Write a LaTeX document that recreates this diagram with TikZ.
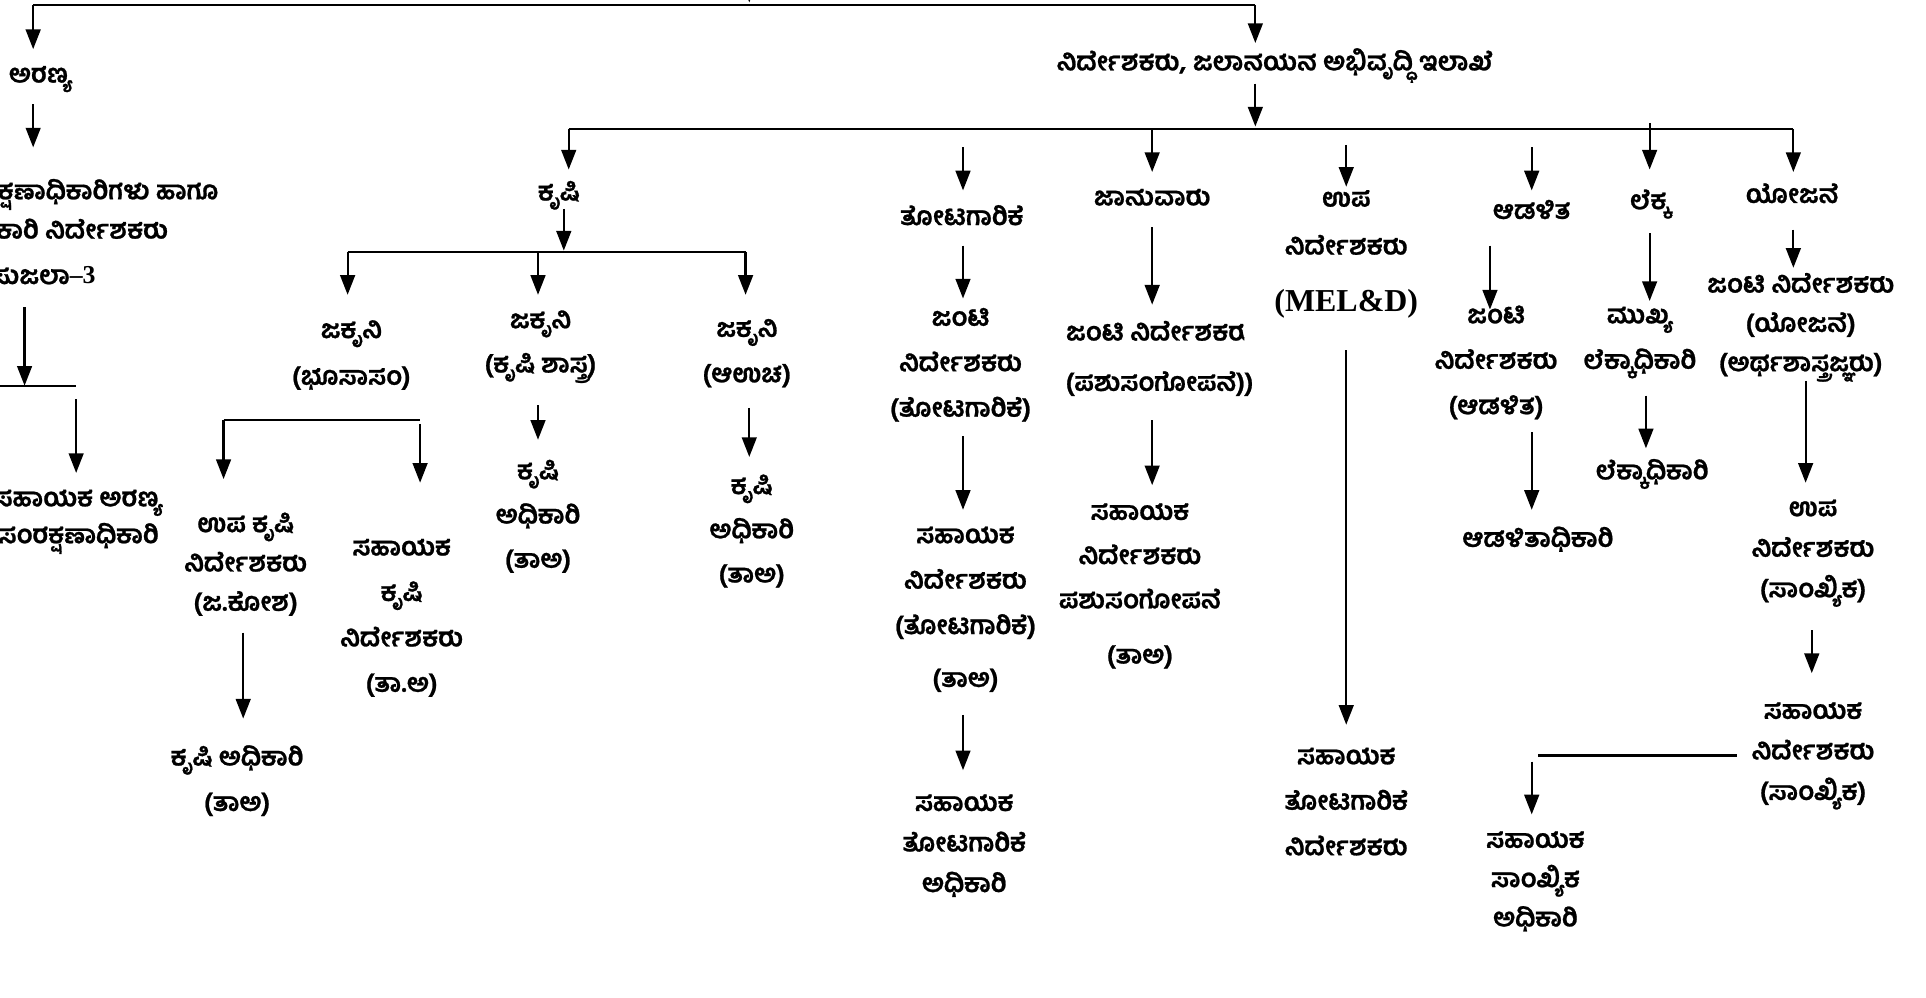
\documentclass[tikz,border=0pt]{standalone}
\usepackage{fontspec}
\newfontfamily\kn[Script=Kannada,BoldFeatures={FakeBold=0.9}]{Hind Mysuru}
\newfontfamily\tms{Liberation Serif}
\usetikzlibrary{arrows.meta}
\newcommand\Ts{\rule{0pt}{18pt}}
\newcommand\Bs{\rule[-8pt]{0pt}{8pt}}
\begin{document}
\begin{tikzpicture}[x=1pt,y=-1pt,
  every node/.style={inner sep=0pt,align=center,anchor=north},
  kt/.style={font=\kn\bfseries\fontsize{21}{#1}\selectfont},
  kt/.default=36,
  ln/.style={line width=1.8pt},
  arr/.style={line width=1.8pt,-{Triangle[width=12pt,length=16pt]}}]
\clip (0,0) rectangle (1568,812);
\fill[white] (0,0) rectangle (1568,812);

% ---------- text nodes ----------
\node[kt] (aranya) at (33,49) {\Ts ಅರಣ್ಯ\Bs};
\node[kt,anchor=north east] (lb1) at (178,144) {\Ts ಸಂರಕ್ಷಣಾಧಿಕಾರಿಗಳು ಹಾಗೂ\Bs};
\node[kt,anchor=north east] (lb2) at (137,176) {\Ts ಕಾರ್ಯಕಾರಿ ನಿರ್ದೇಶಕರು\Bs};
\node[kt,anchor=north east] (lb3) at (78,213) {\Ts ಸುಜಲಾ{\tms\bfseries\fontsize{21}{24}\selectfont –3}\Bs};
\node[kt=30] (asf) at (64,394) {\Ts ಸಹಾಯಕ ಅರಣ್ಯ\\ಸಂರಕ್ಷಣಾಧಿಕಾರಿ\Bs};

\node[kt] (main) at (1038,39) {\Ts ನಿರ್ದೇಶಕರು, ಜಲಾನಯನ ಅಭಿವೃದ್ಧಿ ಇಲಾಖೆ\Bs};

\node[kt] (krishi) at (455,145) {\Ts ಕೃಷಿ\Bs};
\node[kt=38] (j1) at (286,257) {\Ts ಜಕೃನಿ\\(ಭೂಸಾಸಂ)\Bs};
\node[kt=36] (j2) at (440,249) {\Ts ಜಕೃನಿ\\(ಕೃಷಿ ಶಾಸ್ತ್ರ)\Bs};
\node[kt=37] (j3) at (608,256) {\Ts ಜಕೃನಿ\\(ಆಉಚ)\Bs};
\node[kt=32] (upk) at (200,415) {\Ts ಉಪ ಕೃಷಿ\\ನಿರ್ದೇಶಕರು\\(ಜ.ಕೋಶ)\Bs};
\node[kt=37] (ko1) at (193,605) {\Ts ಕೃಷಿ ಅಧಿಕಾರಿ\\(ತಾಅ)\Bs};
\node[kt=37] (sak) at (327,434) {\Ts ಸಹಾಯಕ\\ಕೃಷಿ\\ನಿರ್ದೇಶಕರು\\(ತಾ.ಅ)\Bs};
\node[kt=36] (ko2) at (438,372) {\Ts ಕೃಷಿ\\ಅಧಿಕಾರಿ\\(ತಾಅ)\Bs};
\node[kt=36] (ko3) at (612,384) {\Ts ಕೃಷಿ\\ಅಧಿಕಾರಿ\\(ತಾಅ)\Bs};

\node[kt] (tot) at (783,165) {\Ts ತೋಟಗಾರಿಕೆ\Bs};
\node[kt=37] (jdh) at (782,247) {\Ts ಜಂಟಿ\\ನಿರ್ದೇಶಕರು\\(ತೋಟಗಾರಿಕೆ)\Bs};
\node[kt=37] (adh) at (786,424) {\Ts ಸಹಾಯಕ\\ನಿರ್ದೇಶಕರು\\(ತೋಟಗಾರಿಕೆ)\\[6pt](ತಾಅ)\Bs};
\node[kt=33] (aho) at (785,642) {\Ts ಸಹಾಯಕ\\ತೋಟಗಾರಿಕೆ\\ಅಧಿಕಾರಿ\Bs};

\node[kt] (jan) at (938,149) {\Ts ಜಾನುವಾರು\Bs};
\begin{scope}
\clip (850,240) -| (1013,292) -| (1045,345) -| (850,240) -- cycle;
\node[kt=41] (jdl) at (944,259) {\Ts ಜಂಟಿ ನಿರ್ದೇಶಕರು\\(ಪಶುಸಂಗೋಪನೆ))\Bs};
\end{scope}
\node[kt=36] (adl) at (928,405) {\Ts ಸಹಾಯಕ\\ನಿರ್ದೇಶಕರು\\ಪಶುಸಂಗೋಪನೆ\\[9pt](ತಾಅ)\Bs};

\node[kt=39] (upm) at (1096,150) {\Ts ಉಪ\\ನಿರ್ದೇಶಕರು\\[7pt]{\tms\bfseries\fontsize{26}{30}\selectfont (MEL\&D)}\Bs};
\node[kt=37] (aht) at (1096,604) {\Ts ಸಹಾಯಕ\\ತೋಟಗಾರಿಕೆ\\ನಿರ್ದೇಶಕರು\Bs};

\node[kt] (adm) at (1247,160) {\Ts ಆಡಳಿತ\Bs};
\node[kt=37] (jda) at (1218,245) {\Ts ಜಂಟಿ\\ನಿರ್ದೇಶಕರು\\(ಆಡಳಿತ)\Bs};
\node[kt] (ado) at (1252,427) {\Ts ಆಡಳಿತಾಧಿಕಾರಿ\Bs};

\node[kt] (lek) at (1343,152) {\Ts ಲೆಕ್ಕ\Bs};
\node[kt=37] (mlo) at (1335,245) {\Ts ಮುಖ್ಯ\\ಲೆಕ್ಕಾಧಿಕಾರಿ\Bs};
\node[kt] (lo) at (1345,372) {\Ts ಲೆಕ್ಕಾಧಿಕಾರಿ\Bs};

\node[kt] (yoj) at (1459,147) {\Ts ಯೋಜನೆ\Bs};
\node[kt=32] (jdp) at (1466,220) {\Ts ಜಂಟಿ ನಿರ್ದೇಶಕರು\\(ಯೋಜನೆ)\\(ಅರ್ಥಶಾಸ್ತ್ರಜ್ಞರು)\Bs};
\node[kt=33] (udp) at (1476,402) {\Ts ಉಪ\\ನಿರ್ದೇಶಕರು\\(ಸಾಂಖ್ಯಿಕ)\Bs};
\node[kt=33] (adp) at (1476,567) {\Ts ಸಹಾಯಕ\\ನಿರ್ದೇಶಕರು\\(ಸಾಂಖ್ಯಿಕ)\Bs};
\node[kt=32] (aso) at (1250,672) {\Ts ಸಹಾಯಕ\\ಸಾಂಖ್ಯಿಕ\\ಅಧಿಕಾರಿ\Bs};

% ---------- connector points ----------
\coordinate (root-in) at (610,-30);
\coordinate (bus0-l) at (27,4);
\coordinate (bus0-m) at (610,4);
\coordinate (bus0-r) at (1022,4);
\coordinate (aranya-in) at (27,40);
\coordinate (main-in) at (1022,35);
\coordinate (aranya-out) at (27,85);
\coordinate (lb-in) at (27,120);
\coordinate (lb-out) at (20,250);
\coordinate (lbbus-m) at (20,314);
\coordinate (lbbus-l) at (0,314);
\coordinate (lbbus-r) at (62,314);
\coordinate (asf-top) at (62,325);
\coordinate (asf-in) at (62,385);

\coordinate (main-out) at (1022,68);
\coordinate (bus1-m) at (1022,103);
\coordinate (bus1-l) at (463,105);
\coordinate (bus1-r) at (1460,105);
\coordinate (krishi-in) at (463,138);
\coordinate (tot-top) at (784,120);  \coordinate (tot-in) at (784,155);
\coordinate (jan-top) at (938,105);  \coordinate (jan-in) at (938,140);
\coordinate (upm-top) at (1096,118); \coordinate (upm-in) at (1096,152);
\coordinate (adm-top) at (1247,120); \coordinate (adm-in) at (1247,155);
\coordinate (lek-top) at (1343,100); \coordinate (lek-in) at (1343,138);
\coordinate (yoj-in) at (1460,140);

\coordinate (krishi-out) at (459,170);
\coordinate (bus2-m) at (459,204);
\coordinate (bus2-l) at (283,205);
\coordinate (bus2-r) at (607,205);
\coordinate (j1-in) at (283,240);
\coordinate (j2-top) at (438,205); \coordinate (j2-in) at (438,240);
\coordinate (j3-in) at (607,240);
\coordinate (br-l) at (182,342);
\coordinate (br-r) at (342,342);
\coordinate (upk-in) at (182,390);
\coordinate (sak-top) at (342,345); \coordinate (sak-in) at (342,393);
\coordinate (j2-out) at (438,330); \coordinate (ko2-in) at (438,358);
\coordinate (j3-out) at (610,332); \coordinate (ko3-in) at (610,372);
\coordinate (upk-out) at (198,515); \coordinate (ko1-in) at (198,585);

\coordinate (tot-out) at (784,200); \coordinate (jdh-in) at (784,243);
\coordinate (jdh-out) at (784,355); \coordinate (adh-in) at (784,415);
\coordinate (adh-out) at (784,582); \coordinate (aho-in) at (784,627);
\coordinate (jan-out) at (938,185); \coordinate (jdl-in) at (938,248);
\coordinate (jdl-out) at (938,342); \coordinate (adl-in) at (938,395);
\coordinate (upm-out) at (1096,285); \coordinate (aht-in) at (1096,590);
\coordinate (adm-out) at (1213,200); \coordinate (jda-in) at (1213,252);
\coordinate (jda-out) at (1247,352); \coordinate (ado-in) at (1247,415);
\coordinate (lek-out) at (1343,190); \coordinate (mlo-in) at (1343,245);
\coordinate (mlo-out) at (1340,322); \coordinate (lo-in) at (1340,365);
\coordinate (yoj-out) at (1460,187); \coordinate (jdp-in) at (1460,218);
\coordinate (jdp-out) at (1470,310); \coordinate (udp-in) at (1470,393);
\coordinate (udp-out) at (1475,513); \coordinate (adp-in) at (1475,548);
\coordinate (adp-out) at (1414,615); \coordinate (asobus) at (1252,615);
\coordinate (aso-top) at (1247,620); \coordinate (aso-in) at (1247,663);

% ---------- connectors ----------
\draw[ln] (bus0-l) -- (bus0-r);
\draw[arr] (root-in) -- ([yshift=2pt]bus0-m);
\draw[arr] (bus0-l) -- (aranya-in);
\draw[arr] (bus0-r) -- (main-in);
\draw[arr] (aranya-out) -- (lb-in);
\draw[arr] (lb-out) -- (lbbus-m);
\draw[ln] (lbbus-l) -- (lbbus-r);
\draw[arr] (asf-top) -- (asf-in);

\draw[arr] (main-out) -- (bus1-m);
\draw[ln] (bus1-l) -- (bus1-r);
\draw[arr] (bus1-l) -- (krishi-in);
\draw[arr] (tot-top) -- (tot-in);
\draw[arr] (jan-top) -- (jan-in);
\draw[arr] (upm-top) -- (upm-in);
\draw[arr] (adm-top) -- (adm-in);
\draw[arr] (lek-top) -- (lek-in);
\draw[arr] (bus1-r) -- (yoj-in);

\draw[arr] (krishi-out) -- (bus2-m);
\draw[ln] (bus2-l) -- (bus2-r);
\draw[arr] (bus2-l) -- (j1-in);
\draw[arr] (j2-top) -- (j2-in);
\draw[arr] (bus2-r) -- (j3-in);
\draw[ln] (br-l) -- (br-r);
\draw[arr] (br-l) -- (upk-in);
\draw[arr] (sak-top) -- (sak-in);
\draw[arr] (j2-out) -- (ko2-in);
\draw[arr] (j3-out) -- (ko3-in);
\draw[arr] (upk-out) -- (ko1-in);

\draw[arr] (tot-out) -- (jdh-in);
\draw[arr] (jdh-out) -- (adh-in);
\draw[arr] (adh-out) -- (aho-in);
\draw[arr] (jan-out) -- (jdl-in);
\draw[arr] (jdl-out) -- (adl-in);
\draw[arr] (upm-out) -- (aht-in);
\draw[arr] (adm-out) -- (jda-in);
\draw[arr] (jda-out) -- (ado-in);
\draw[arr] (lek-out) -- (mlo-in);
\draw[arr] (mlo-out) -- (lo-in);
\draw[arr] (yoj-out) -- (jdp-in);
\draw[arr] (jdp-out) -- (udp-in);
\draw[arr] (udp-out) -- (adp-in);
\draw[ln] (adp-out) -- (asobus);
\draw[arr] (aso-top) -- (aso-in);
\end{tikzpicture}
\end{document}
